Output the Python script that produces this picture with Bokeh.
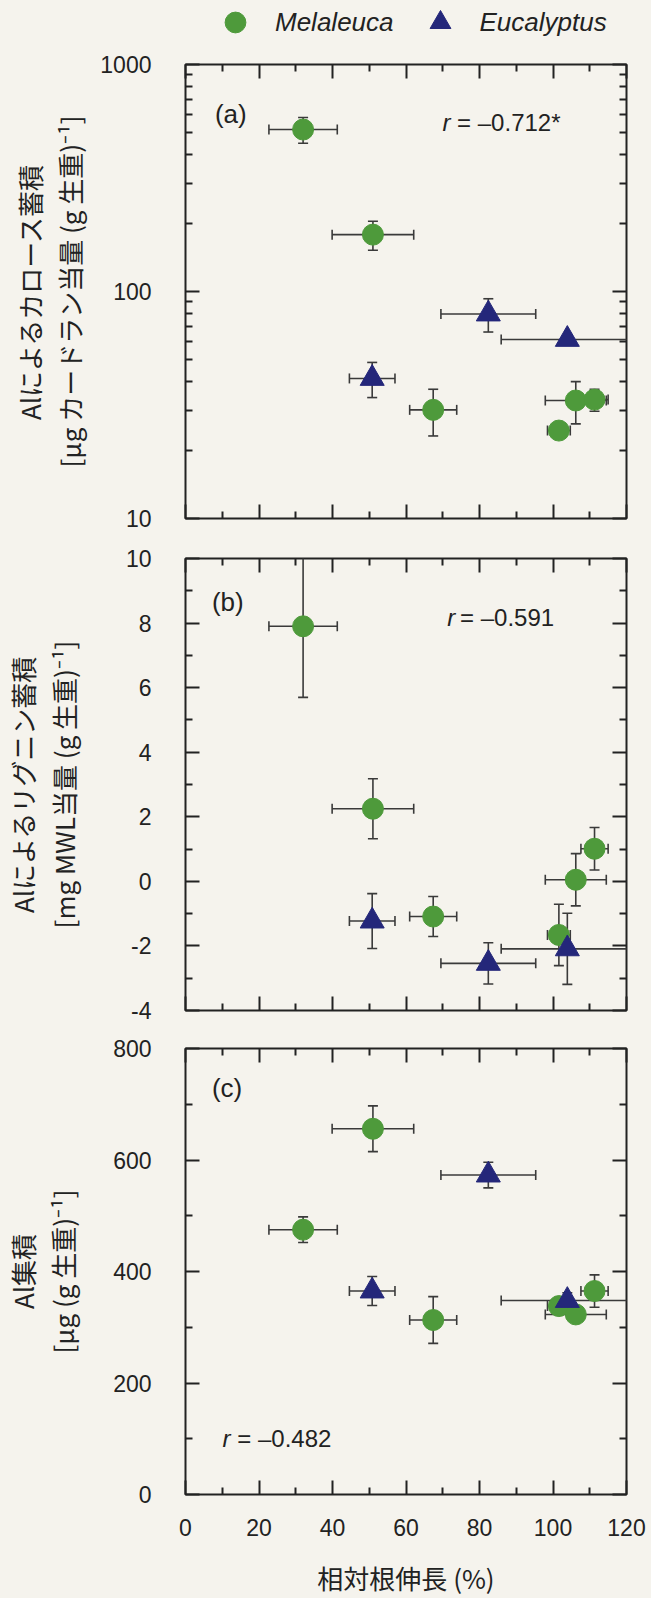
from bokeh.plotting import figure
from bokeh.models import (Range1d, LinearAxis, LogAxis, FixedTicker, Whisker, ColumnDataSource,
                          Label, Legend, LegendItem, TeeHead, PrintfTickFormatter)
from bokeh.layouts import column
from bokeh.embed import file_html
from bokeh.resources import INLINE

# ---------------- data ----------------
species = ["Melaleuca", "Eucalyptus"]

# relative root elongation (%) and its error, shared by all three panels
x_mel = [32.0, 51.0, 67.4, 101.6, 106.2, 111.3]
xerr_mel = [9.3, 11.1, 6.4, 3.1, 8.3, 3.7]
x_euc = [50.8, 82.4, 103.9]
xerr_euc = [6.2, 12.9, 18.0]

# (a) callose accumulation (log axis)
a_mel = [517, 178, 30.1, 24.4, 33.1, 33.4]
a_mel_err = [67, 26, 7.0, 1.0, 7.0, 3.7]
a_euc = [41.4, 79.6, 61.5]
a_euc_err = [7.3, 13.3, 2.5]

# (b) lignin accumulation
b_mel = [7.9, 2.25, -1.09, -1.66, 0.05, 1.01]
b_mel_err = [2.2, 0.93, 0.62, 0.95, 0.81, 0.66]
b_euc = [-1.23, -2.54, -2.09]
b_euc_err = [0.85, 0.64, 1.1]

# (c) Al accumulation
c_mel = [475, 656, 313, 338, 323, 365]
c_mel_err = [23, 41, 42, 10, 10, 29]
c_euc = [365, 573, 348]
c_euc_err = [26, 23, 14]

x_ticks = [0, 20, 40, 60, 80, 100, 120]
x_minor = [10, 30, 50, 70, 90, 110]
a_ticks = [10, 100, 1000]
a_minor = [20, 30, 40, 50, 60, 70, 80, 90, 200, 300, 400, 500, 600, 700, 800, 900]
b_ticks = [-4, -2, 0, 2, 4, 6, 8, 10]
b_minor = [-3, -1, 1, 3, 5, 7, 9]
c_ticks = [0, 200, 400, 600, 800]
c_minor = [100, 300, 500, 700]

r_texts = ["–0.712*", "–0.591", "–0.482"]
ylab1 = ["Alによるカロース蓄積", "Alによるリグニン蓄積", "Al集積"]
ylab2 = ["[µg カードラン当量 (g 生重)⁻¹]", "[mg MWL当量 (g 生重)⁻¹]", "[µg (g 生重)⁻¹]"]
xlabel = "相対根伸長 (%)"

# ---------------- style ----------------
BG = "#f5f3ed"
GREEN = "#4e9a3b"
NAVY = "#24277a"
INK = "#222222"
ERR = "#3a3a3a"
LATIN = "Liberation Sans"
CJK = "Noto Sans CJK JP"

tick_style = dict(major_tick_in=14, major_tick_out=0, minor_tick_in=7, minor_tick_out=0,
                  major_tick_line_width=2, minor_tick_line_width=2,
                  major_tick_line_color=INK, minor_tick_line_color=INK, axis_line_color=None)
mel_style = dict(marker="circle", size=21, fill_color=GREEN, line_color=GREEN)
euc_style = dict(marker="triangle", size=24, fill_color=NAVY, line_color=NAVY)


def hidden_axis(cls, ticks, minor):
    return cls(ticker=FixedTicker(ticks=ticks, minor_ticks=minor), major_label_text_font_size="1px",
               major_label_text_alpha=0, major_label_standoff=0, **tick_style)


def make_panel(height, btop, bbottom, y_range, log, yt, ym, ymels, ymelerr, yeucs, yeucerr,
               lab1, lab2, std2, bottom_labels=False):
    p = figure(width=651, height=height, x_range=Range1d(0, 120), y_range=y_range,
               y_axis_type="log" if log else "linear", output_backend="svg", toolbar_location=None,
               x_axis_location=None, y_axis_location=None,
               min_border_left=175, min_border_right=25, min_border_top=btop, min_border_bottom=bbottom,
               background_fill_color=BG, border_fill_color=BG,
               outline_line_color=INK, outline_line_width=2)
    p.grid.visible = False

    Ycls = LogAxis if log else LinearAxis
    yax = Ycls(ticker=FixedTicker(ticks=yt, minor_ticks=ym), major_label_standoff=34,
               formatter=PrintfTickFormatter(format="%d"),
               major_label_text_font=LATIN, major_label_text_font_size="23px",
               major_label_text_color=INK, axis_label=lab2, axis_label_text_font=CJK,
               axis_label_text_font_size="26px", axis_label_text_font_style="normal",
               axis_label_text_color=INK, axis_label_standoff=std2, **tick_style)
    p.add_layout(yax, "left")
    ylab = Ycls(ticker=FixedTicker(ticks=yt), major_label_text_font_size="1px",
                major_label_text_alpha=0, major_label_standoff=0,
                major_tick_in=0, major_tick_out=0, minor_tick_in=0, minor_tick_out=0,
                major_tick_line_color=None, minor_tick_line_color=None, axis_line_color=None,
                axis_label=lab1, axis_label_text_font=CJK, axis_label_text_font_size="26px",
                axis_label_text_font_style="normal", axis_label_text_color=INK,
                axis_label_standoff=1)
    p.add_layout(ylab, "left")
    p.add_layout(hidden_axis(Ycls, yt, ym), "right")
    p.add_layout(hidden_axis(LinearAxis, x_ticks, x_minor), "above")
    if bottom_labels:
        xax = LinearAxis(ticker=FixedTicker(ticks=x_ticks, minor_ticks=x_minor),
                         major_label_standoff=24, major_label_text_font=LATIN,
                         major_label_text_font_size="23px", major_label_text_color=INK,
                         axis_label=xlabel, axis_label_text_font=CJK, axis_label_text_font_size="26px",
                         axis_label_text_font_style="normal", axis_label_text_color=INK,
                         axis_label_standoff=20, **tick_style)
        p.add_layout(xax, "below")
    else:
        p.add_layout(hidden_axis(LinearAxis, x_ticks, x_minor), "below")

    src_m = ColumnDataSource(dict(
        x=x_mel, y=ymels,
        xl=[a - e for a, e in zip(x_mel, xerr_mel)], xu=[a + e for a, e in zip(x_mel, xerr_mel)],
        yl=[a - e for a, e in zip(ymels, ymelerr)], yu=[a + e for a, e in zip(ymels, ymelerr)]))
    src_e = ColumnDataSource(dict(
        x=x_euc, y=yeucs,
        xl=[a - e for a, e in zip(x_euc, xerr_euc)], xu=[a + e for a, e in zip(x_euc, xerr_euc)],
        yl=[a - e for a, e in zip(yeucs, yeucerr)], yu=[a + e for a, e in zip(yeucs, yeucerr)]))

    for src in (src_m, src_e):
        for dim, base, lo, hi in (("height", "x", "yl", "yu"), ("width", "y", "xl", "xu")):
            w = Whisker(source=src, base=base, lower=lo, upper=hi, dimension=dim,
                        line_color=ERR, line_width=1.6, level="underlay",
                        upper_head=TeeHead(size=10, line_color=ERR, line_width=1.6),
                        lower_head=TeeHead(size=10, line_color=ERR, line_width=1.6))
            p.add_layout(w)

    p.scatter("x", "y", source=src_m, **mel_style)
    p.scatter("x", "y", source=src_e, **euc_style)
    return p


def add_texts(p, tag, tag_xy, r_xy, eq_x, rtxt):
    p.add_layout(Label(x=tag_xy[0], y=tag_xy[1], text=tag, text_font=LATIN, text_font_size="26px",
                       text_color=INK, text_baseline="middle", text_align="left"))
    p.add_layout(Label(x=r_xy[0], y=r_xy[1], text="r", text_font=LATIN, text_font_size="24px",
                       text_font_style="italic", text_color=INK, text_baseline="middle"))
    p.add_layout(Label(x=eq_x, y=r_xy[1], text="= " + rtxt, text_font=LATIN, text_font_size="24px",
                       text_color=INK, text_baseline="middle"))


# legend strip on top (frame aligned with the panels below)
pt = figure(width=651, height=44, x_range=Range1d(0, 120), y_range=Range1d(10, 1000),
            y_axis_type="log", output_backend="svg", toolbar_location=None,
            x_axis_location=None, y_axis_location=None,
            min_border_left=175, min_border_right=25, min_border_top=0, min_border_bottom=0,
            outline_line_color=None, background_fill_color=BG, border_fill_color=BG)
pt.grid.visible = False
lm = pt.scatter(x=x_mel, y=a_mel, visible=False, **mel_style)
le = pt.scatter(x=x_euc, y=a_euc, visible=False, **euc_style)
legend = Legend(items=[LegendItem(label=species[0], renderers=[lm]),
                       LegendItem(label=species[1], renderers=[le])],
                orientation="horizontal", location="center_left",
                label_text_font=LATIN, label_text_font_style="italic", label_text_font_size="26px",
                label_text_color=INK, glyph_width=52, glyph_height=52, label_standoff=14, spacing=20,
                border_line_color=None, background_fill_alpha=0, inactive_fill_alpha=0,
                padding=0, margin=24)
pt.add_layout(legend)

pa = make_panel(494, 20, 20, Range1d(10, 1000), True, a_ticks, a_minor,
                a_mel, a_mel_err, a_euc, a_euc_err, ylab1[0], ylab2[0], 9)
add_texts(pa, "(a)", (8, 608), (69.9, 555), 73.9, r_texts[0])

pb = make_panel(491, 20, 19, Range1d(-4, 10), False, b_ticks, b_minor,
                b_mel, b_mel_err, b_euc, b_euc_err, ylab1[1], ylab2[1], 41)
add_texts(pb, "(b)", (7.2, 8.64), (71.2, 8.17), 74.7, r_texts[1])

pc = make_panel(569, 19, 99, Range1d(0, 800), False, c_ticks, c_minor,
                c_mel, c_mel_err, c_euc, c_euc_err, ylab1[2], ylab2[2], 29, bottom_labels=True)
add_texts(pc, "(c)", (7.2, 729), (10.1, 101), 14.1, r_texts[2])

layout = column(pt, pa, pb, pc, spacing=0)
layout.styles = {"background-color": BG}

html = file_html(layout, INLINE)
html = html.replace("<head>", "<head><style>body{margin:0;background:%s}</style>" % BG, 1)
with open("out.html", "w") as f:
    f.write(html)
